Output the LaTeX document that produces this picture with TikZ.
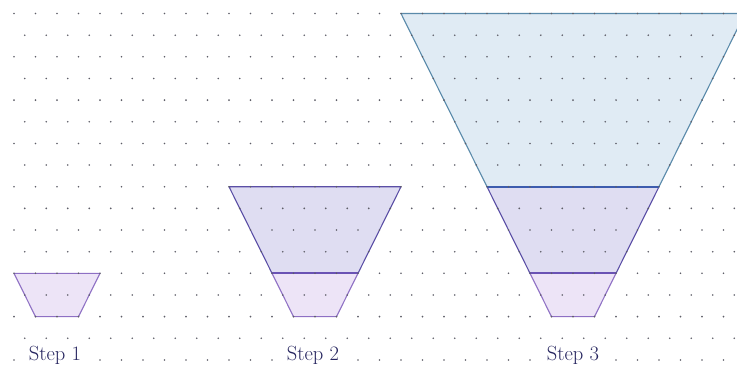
\documentclass[tikz,border=0pt]{standalone}
\usepackage{fontspec}
\usetikzlibrary{calc}
\definecolor{lowfill}{HTML}{EDE4F7}
\definecolor{lowdraw}{HTML}{8E70C4}
\definecolor{midfill}{HTML}{DFDDF2}
\definecolor{middraw}{HTML}{5B4FA6}
\definecolor{topfill}{HTML}{E0EBF4}
\definecolor{topdraw}{HTML}{5A8AAA}
\definecolor{divlow}{HTML}{6A52B4}
\definecolor{divtop}{HTML}{3D5CAE}
\definecolor{labcol}{HTML}{26255F}
\definecolor{dotcol}{HTML}{5E5E68}
\begin{document}
\begin{tikzpicture}[x=1pt,y=-1pt,
  lowpart/.style={fill=lowfill,draw=lowdraw,line width=1.1pt,line join=round},
  midpart/.style={fill=midfill,draw=middraw,line width=1.1pt,line join=round},
  toppart/.style={fill=topfill,draw=topdraw,line width=1.1pt,line join=round},
  divlowline/.style={draw=divlow,line width=2pt},
  divtopline/.style={draw=divtop,line width=2pt},
  gdot/.style={fill=dotcol,draw=none},
  steplabel/.style={text=labcol,fill=white,inner sep=1pt,font=\fontsize{20.5}{22}\selectfont,anchor=base}]
\useasboundingbox (0,0) rectangle (737,365);
\clip (0,0) rectangle (737,365);
% step 1
\coordinate (a1) at (14,273.3); \coordinate (a2) at (100,273.3);
\coordinate (a3) at (78.5,316.6); \coordinate (a4) at (35.5,316.6);
\path[lowpart] (a1) -- (a2) -- (a3) -- (a4) -- cycle;
% step 2
\coordinate (b1) at (229,186.7); \coordinate (b2) at (401,186.7);
\coordinate (b3) at (358,273.3); \coordinate (b4) at (272,273.3);
\coordinate (b5) at (336.5,316.6); \coordinate (b6) at (293.5,316.6);
\path[midpart] (b1) -- (b2) -- (b3) -- (b4) -- cycle;
\path[lowpart] (b4) -- (b3) -- (b5) -- (b6) -- cycle;
\path[divlowline] (b4) -- (b3);
% step 3
\coordinate (c1) at (401,13.5); \coordinate (c2) at (745,13.5);
\coordinate (c3) at (659,186.7); \coordinate (c4) at (487,186.7);
\coordinate (c5) at (616,273.3); \coordinate (c6) at (530,273.3);
\coordinate (c7) at (594.5,316.6); \coordinate (c8) at (551.5,316.6);
\path[toppart] (c1) -- (c2) -- (c3) -- (c4) -- cycle;
\path[midpart] (c4) -- (c3) -- (c5) -- (c6) -- cycle;
\path[lowpart] (c6) -- (c5) -- (c7) -- (c8) -- cycle;
\path[divlowline] (c6) -- (c5);
\path[divtopline] (c4) -- (c3);
% dot grid
\foreach \j in {0,...,16}{
  \pgfmathsetmacro{\yy}{13.5+21.65*\j}
  \pgfmathsetmacro{\off}{mod(\j,2)==0 ? 14 : 24.75}
  \foreach \k in {0,...,33}{
    \fill[gdot] ({\off+21.5*\k},\yy) circle (0.9);
  }
}
% labels
\node[steplabel] (s1) at (55,360) {Step 1};
\node[steplabel] (s2) at (313,360) {Step 2};
\node[steplabel] (s3) at (573,360) {Step 3};
\end{tikzpicture}
\end{document}
